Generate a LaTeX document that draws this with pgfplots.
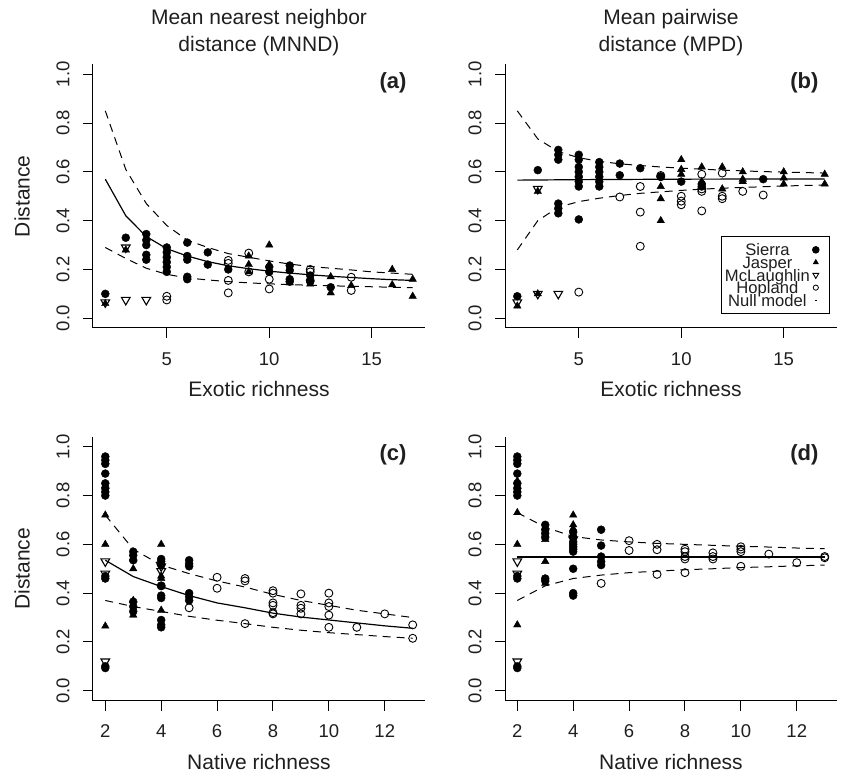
\documentclass[border=0pt]{standalone}
\usepackage{pgfplots}
\pgfplotsset{compat=1.18}
\usepackage{fontspec}
\setmainfont{Liberation Sans}
\definecolor{txt}{gray}{0.12}
\pgfplotsset{
  rpanel/.style={
    scale only axis, width=332pt, height=263.5pt,
    ymin=-0.04, ymax=1.04,
    axis x line*=bottom, axis y line*=left,
    axis line style={line width=1pt,-},
    every tick/.style={line width=1pt,black},
    major tick length=10pt, tick align=outside,
    ytick={0,0.2,0.4,0.6,0.8,1.0},
    /pgf/number format/assume math mode=true,
    tick label style={font=\fontsize{18.5}{18.5}\selectfont, text=txt},
    yticklabel style={rotate=90, anchor=south, /pgf/number format/fixed, /pgf/number format/fixed zerofill, /pgf/number format/precision=1},
    xticklabel style={anchor=north},
    xticklabel shift=11pt, yticklabel shift=10pt,
    label style={font=\fontsize{21}{21}\selectfont, text=txt},
    xlabel style={at={(rel axis cs:0.5,0)}, anchor=center, yshift=-61pt},
    ylabel style={at={(rel axis cs:0,0.5)}, anchor=center, rotate=0, yshift=71pt},
    title style={font=\fontsize{21}{27}\selectfont, text=txt, align=center, at={(rel axis cs:0.5,1)}, anchor=center, yshift=26pt},
    clip=false,
  },
  sierra/.style={only marks, mark=*, mark size=4pt, black, forget plot},
  jasper/.style={only marks, mark=triangle*, mark size=4.3pt, black, forget plot},
  mcl/.style={only marks, mark=triangle, mark size=5pt, mark options={rotate=180, line width=1.1pt}, black, forget plot},
  hop/.style={only marks, mark=o, mark size=4pt, mark options={line width=0.9pt}, black, forget plot},
  nullm/.style={no marks, black, line width=1.2pt, forget plot},
  nulld/.style={no marks, black, line width=1pt, dash pattern=on 8pt off 6pt, forget plot},
  legmark/.style={legend image code/.code={\draw[mark repeat=2,mark phase=2,##1] plot coordinates {(0cm,0cm) (0.15cm,0cm) (0.3cm,0cm)}; \path (0.52cm,0cm);}},
  legdash/.style={legend image code/.code={\draw[##1] (0.11cm,0cm) -- (0.19cm,0cm); \path (0cm,0cm) (0.52cm,0cm);}},
}
\newcommand{\plab}[1]{\node[anchor=east, font=\fontsize{22}{22}\selectfont\bfseries, text=txt] at (rel axis cs:1,1) [xshift=-15pt, yshift=-18pt] {#1};}
\begin{document}
\begin{tikzpicture}
\path[use as bounding box] (0,0) rectangle (841pt,777pt);
% ---------------- (a)
\begin{axis}[rpanel, at={(93pt,449pt)}, anchor=south west,
  xmin=1.4, xmax=17.6, xtick={5,10,15},
  xlabel={Exotic richness}, ylabel={Distance},
  title={Mean nearest neighbor\\distance (MNND)}]
\addplot[nulld] coordinates {(2,0.85)(3,0.61)(4,0.47)(5,0.38)(6,0.32)(7,0.29)(8,0.265)(9,0.25)(10,0.235)(11,0.222)(12,0.212)(13,0.205)(14,0.198)(15,0.19)(16,0.185)(17,0.18)};
\addplot[nullm] coordinates {(2,0.57)(3,0.42)(4,0.335)(5,0.285)(6,0.255)(7,0.232)(8,0.215)(9,0.203)(10,0.193)(11,0.185)(12,0.178)(13,0.172)(14,0.167)(15,0.162)(16,0.158)(17,0.155)};
\addplot[nulld] coordinates {(2,0.29)(3,0.245)(4,0.205)(5,0.18)(6,0.165)(7,0.157)(8,0.15)(9,0.145)(10,0.141)(11,0.138)(12,0.135)(13,0.133)(14,0.131)(15,0.129)(16,0.127)(17,0.125)};
\addplot[sierra] coordinates {(2,0.1)(3,0.33)(4,0.345)(4,0.32)(4,0.30)(4,0.26)(4,0.24)(5,0.29)(5,0.27)(5,0.25)(5,0.23)(5,0.21)(5,0.19)(6,0.31)(6,0.255)(6,0.24)(6,0.17)(6,0.16)(7,0.27)(7,0.22)(8,0.2)(10,0.21)(10,0.19)(11,0.216)(11,0.196)(11,0.16)(11,0.15)(12,0.175)(12,0.15)(13,0.127)};
\addplot[jasper] coordinates {(2,0.06)(3,0.28)(9,0.255)(9,0.22)(9,0.19)(10,0.3)(10,0.22)(11,0.145)(11,0.16)(12,0.14)(13,0.17)(13,0.104)(14,0.134)(16,0.2)(16,0.137)(17,0.16)(17,0.09)};
\addplot[mcl] coordinates {(2,0.065)(3,0.29)(3,0.075)(4,0.075)};
\addplot[hop] coordinates {(5,0.09)(5,0.075)(8,0.237)(8,0.225)(8,0.155)(8,0.104)(9,0.267)(9,0.19)(10,0.16)(10,0.12)(12,0.2)(12,0.19)(12,0.155)(14,0.168)(14,0.114)};
\plab{(a)}
\end{axis}
% ---------------- (b)
\begin{axis}[rpanel, at={(505pt,449pt)}, anchor=south west,
  xmin=1.4, xmax=17.6, xtick={5,10,15},
  xlabel={Exotic richness},
  title={Mean pairwise\\distance (MPD)},
  legend plot pos=right, legend cell align=center,
  legend style={at={(rel axis cs:1,0)}, anchor=south east, xshift=-7pt, yshift=14pt,
    draw=black, line width=0.9pt, font=\fontsize{16.6}{16.6}\selectfont, text=txt,
    inner xsep=2.5pt, inner ysep=7pt, row sep=0pt,
    nodes={inner ysep=0.2pt, inner xsep=1pt, text height=12.2pt, text depth=0pt}}]
\addlegendimage{legmark, only marks, mark=*, mark size=3.3pt, black}
\addlegendentry{Sierra}
\addlegendimage{legmark, only marks, mark=triangle*, mark size=2.7pt, black}
\addlegendentry{Jasper}
\addlegendimage{legmark, only marks, mark=triangle, mark size=3.4pt, mark options={rotate=180, line width=0.9pt}, black}
\addlegendentry{McLaughlin}
\addlegendimage{legmark, only marks, mark=o, mark size=2.6pt, mark options={line width=0.8pt}, black}
\addlegendentry{Hopland}
\addlegendimage{legdash, black, line width=1.4pt}
\addlegendentry{Null model}
\addplot[nulld] coordinates {(2,0.85)(3,0.735)(4,0.683)(5,0.658)(6,0.643)(7,0.633)(8,0.626)(9,0.62)(10,0.615)(11,0.611)(12,0.607)(13,0.604)(14,0.601)(15,0.599)(16,0.597)(17,0.595)};
\addplot[nullm] coordinates {(2,0.566)(5,0.568)(10,0.57)(17,0.571)};
\addplot[nulld] coordinates {(2,0.28)(3,0.4)(4,0.455)(5,0.478)(6,0.492)(7,0.503)(8,0.512)(9,0.518)(10,0.524)(11,0.529)(12,0.533)(13,0.536)(14,0.539)(15,0.542)(16,0.544)(17,0.546)};
\addplot[sierra] coordinates {(2,0.09)(3,0.607)(4,0.69)(4,0.67)(4,0.65)(4,0.47)(4,0.45)(4,0.43)(5,0.67)(5,0.65)(5,0.62)(5,0.6)(5,0.58)(5,0.56)(5,0.54)(5,0.405)(6,0.64)(6,0.62)(6,0.6)(6,0.58)(6,0.56)(6,0.54)(7,0.634)(7,0.586)(8,0.615)(9,0.58)(10,0.56)(11,0.55)(11,0.54)(14,0.57)};
\addplot[jasper] coordinates {(2,0.05)(3,0.52)(3,0.1)(9,0.54)(9,0.49)(9,0.4)(10,0.65)(10,0.61)(10,0.59)(11,0.62)(11,0.56)(12,0.62)(12,0.53)(13,0.6)(13,0.57)(13,0.56)(15,0.6)(15,0.575)(15,0.55)(17,0.59)(17,0.55)};
\addplot[mcl] coordinates {(2,0.065)(3,0.53)(3,0.1)(4,0.1)};
\addplot[hop] coordinates {(5,0.107)(7,0.497)(8,0.54)(8,0.435)(8,0.295)(9,0.585)(9,0.58)(10,0.5)(10,0.48)(10,0.465)(11,0.59)(11,0.53)(11,0.52)(11,0.44)(12,0.595)(12,0.5)(12,0.49)(13,0.52)(14,0.505)};
\plab{(b)}
\end{axis}
% ---------------- (c)
\begin{axis}[rpanel, at={(93pt,76.5pt)}, anchor=south west,
  xmin=1.56, xmax=13.44, xtick={2,4,6,8,10,12},
  xlabel={Native richness}, ylabel={Distance}]
\addplot[nulld] coordinates {(2,0.72)(3,0.58)(4,0.515)(5,0.48)(6,0.45)(7,0.425)(8,0.395)(9,0.37)(10,0.35)(11,0.33)(12,0.315)(13,0.3)};
\addplot[nullm] coordinates {(2,0.535)(3,0.468)(4,0.427)(5,0.39)(6,0.36)(7,0.34)(8,0.318)(9,0.302)(10,0.29)(11,0.278)(12,0.266)(13,0.256)};
\addplot[nulld] coordinates {(2,0.37)(3,0.345)(4,0.325)(5,0.305)(6,0.289)(7,0.275)(8,0.26)(9,0.248)(10,0.238)(11,0.23)(12,0.222)(13,0.215)};
\addplot[sierra] coordinates {(2,0.96)(2,0.945)(2,0.93)(2,0.89)(2,0.85)(2,0.83)(2,0.815)(2,0.8)(2,0.47)(2,0.46)(2,0.1)(2,0.093)(3,0.57)(3,0.555)(3,0.535)(3,0.365)(3,0.345)(3,0.325)(4,0.54)(4,0.53)(4,0.515)(4,0.43)(4,0.39)(4,0.38)(4,0.29)(4,0.27)(4,0.26)(5,0.535)(5,0.52)(5,0.51)(5,0.4)(5,0.385)(5,0.37)};
\addplot[jasper] coordinates {(2,0.84)(2,0.72)(2,0.6)(2,0.265)(3,0.54)(3,0.5)(3,0.37)(3,0.31)(4,0.6)(4,0.47)(4,0.46)(4,0.33)};
\addplot[mcl] coordinates {(2,0.53)(2,0.48)(2,0.12)(4,0.51)(4,0.49)};
\addplot[hop] coordinates {(4,0.43)(5,0.34)(6,0.465)(6,0.42)(7,0.46)(7,0.45)(7,0.275)(8,0.41)(8,0.4)(8,0.36)(8,0.35)(8,0.32)(8,0.315)(9,0.397)(9,0.35)(9,0.338)(9,0.315)(10,0.4)(10,0.36)(10,0.345)(10,0.31)(10,0.26)(11,0.26)(12,0.315)(13,0.27)(13,0.215)};
\plab{(c)}
\end{axis}
% ---------------- (d)
\begin{axis}[rpanel, at={(505pt,76.5pt)}, anchor=south west,
  xmin=1.56, xmax=13.44, xtick={2,4,6,8,10,12},
  xlabel={Native richness}]
\addplot[nulld] coordinates {(2,0.73)(3,0.67)(4,0.632)(5,0.618)(6,0.61)(7,0.604)(8,0.6)(9,0.596)(10,0.592)(11,0.589)(12,0.585)(13,0.582)};
\addplot[nullm] coordinates {(2,0.548)(13,0.548)};
\addplot[nulld] coordinates {(2,0.37)(3,0.43)(4,0.46)(5,0.474)(6,0.484)(7,0.49)(8,0.496)(9,0.5)(10,0.505)(11,0.508)(12,0.512)(13,0.515)};
\addplot[sierra] coordinates {(2,0.96)(2,0.945)(2,0.93)(2,0.89)(2,0.85)(2,0.83)(2,0.815)(2,0.8)(2,0.47)(2,0.46)(2,0.1)(2,0.093)(3,0.68)(3,0.66)(3,0.645)(3,0.63)(3,0.46)(3,0.45)(4,0.65)(4,0.63)(4,0.61)(4,0.6)(4,0.59)(4,0.58)(4,0.57)(4,0.5)(4,0.4)(4,0.39)(5,0.66)(5,0.595)(5,0.55)(5,0.53)(5,0.515)};
\addplot[jasper] coordinates {(2,0.86)(2,0.73)(2,0.6)(2,0.27)(3,0.63)(3,0.62)(3,0.53)(3,0.44)(4,0.72)(4,0.68)(4,0.665)(4,0.64)};
\addplot[mcl] coordinates {(2,0.53)(2,0.48)(2,0.12)(4,0.62)};
\addplot[hop] coordinates {(5,0.44)(6,0.615)(6,0.575)(7,0.6)(7,0.578)(7,0.477)(8,0.58)(8,0.57)(8,0.55)(8,0.54)(8,0.484)(9,0.565)(9,0.55)(9,0.54)(10,0.59)(10,0.58)(10,0.57)(10,0.51)(11,0.56)(12,0.525)(13,0.55)(13,0.545)};
\plab{(d)}
\end{axis}
\end{tikzpicture}
\end{document}
